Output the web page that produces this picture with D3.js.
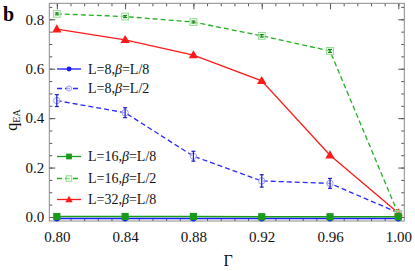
<!DOCTYPE html>
<html><head><meta charset="utf-8">
<script src="https://cdn.jsdelivr.net/npm/d3@7"></script>
<style>body{margin:0;background:#fff}svg{display:block}svg text{font-family:"Liberation Serif","DejaVu Serif",serif !important}</style>
</head><body><svg id="c" width="415" height="271"></svg>
<script>
const gammas = [0.80, 0.84, 0.88, 0.92, 0.96, 1.00];
const L8_b8  = [-0.006, -0.006, -0.006, -0.006, -0.006, -0.006];
const L8_b2  = [0.471, 0.422, 0.246, 0.146, 0.136, 0.017];
const L8_b2_err = [0.024, 0.02, 0.02, 0.025, 0.02, 0.004];
const L16_b8 = [0.002, 0.002, 0.002, 0.001, 0.001, 0.001];
const L16_b2 = [0.822, 0.811, 0.789, 0.733, 0.672, 0.012];
const L16_b2_err = [0.004, 0.004, 0.004, 0.005, 0.006, 0.003];
const L32_b8 = [0.760, 0.717, 0.655, 0.551, 0.250, 0.016];
const legendLabels = ["L=8,", "L=8,", "L=16,", "L=16,", "L=32,"];
const legendBeta = ["L/8", "L/2", "L/8", "L/2", "L/8"];
const xMajor = [0.80, 0.84, 0.88, 0.92, 0.96, 1.00];
const yMajor = [0.0, 0.2, 0.4, 0.6, 0.8];

const svg = d3.select("#c");
const L = 49.3, R = 404.3, T = 3.3, B = 221;
const x = d3.scaleLinear().domain([0.7956, 1.0035]).range([L, R]);
const y = d3.scaleLinear().domain([-0.0162, 0.8647]).range([B, T]);

const xMinor = d3.range(0.792, 1.0036, 0.008).filter(v => v >= 0.7956);
const yMinor = d3.range(0, 0.86, 0.05);

const FONT = '"Liberation Serif","DejaVu Serif",serif';
const tickCol = "#555", frameCol = "#8a8a8a";
function styleAxis(g){ g.select(".domain").remove(); g.selectAll("line").attr("stroke", tickCol); g.attr("font-family", FONT); }
function styleText(g){ g.selectAll("text").attr("font-size",15).attr("fill","#111").style("font-family",FONT); }
// bottom
svg.append("g").attr("transform",`translate(0,${B})`)
  .call(d3.axisBottom(x).tickValues(xMinor).tickSize(-3).tickFormat("")).call(styleAxis);
svg.append("g").attr("transform",`translate(0,${B})`)
  .call(d3.axisBottom(x).tickValues(xMajor).tickSize(-6).tickPadding(10).tickFormat(d3.format(".2f")))
  .call(styleAxis).call(styleText);
// top
svg.append("g").attr("transform",`translate(0,${T})`)
  .call(d3.axisTop(x).tickValues(xMinor).tickSize(-3).tickFormat("")).call(styleAxis);
svg.append("g").attr("transform",`translate(0,${T})`)
  .call(d3.axisTop(x).tickValues(xMajor).tickSize(-6).tickFormat("")).call(styleAxis);
// left
svg.append("g").attr("transform",`translate(${L},0)`)
  .call(d3.axisLeft(y).tickValues(yMinor).tickSize(-3).tickFormat("")).call(styleAxis);
svg.append("g").attr("transform",`translate(${L},0)`)
  .call(d3.axisLeft(y).tickValues(yMajor).tickSize(-6).tickPadding(5).tickFormat(d3.format(".1f")))
  .call(styleAxis).call(styleText);
// right
svg.append("g").attr("transform",`translate(${R},0)`)
  .call(d3.axisRight(y).tickValues(yMinor).tickSize(-3).tickFormat("")).call(styleAxis);
svg.append("g").attr("transform",`translate(${R},0)`)
  .call(d3.axisRight(y).tickValues(yMajor).tickSize(-6).tickFormat("")).call(styleAxis);

svg.append("rect").attr("x",L).attr("y",T).attr("width",R-L).attr("height",B-T)
  .attr("fill","none").attr("stroke",frameCol).attr("stroke-width",1);

const series = [
  {vals:L8_b8, color:"#1a1aff", dash:null, marker:"circleFilled"},
  {vals:L8_b2, color:"#2a2aff", dash:"5,3", marker:"circleOpen", err:L8_b2_err, errCol:"#1a1acc"},
  {vals:L16_b8, color:"#1a9a1a", dash:null, marker:"squareFilled"},
  {vals:L16_b2, color:"#22b022", dash:"5,3", marker:"squareOpen", err:L16_b2_err, errCol:"#118811"},
  {vals:L32_b8, color:"#ff1a1a", dash:null, marker:"triangle"}
];
const line = d3.line().x((d,i)=>x(gammas[i])).y(d=>y(d));

function drawMarker(g, type, cx, cy, color, scale){
  scale = scale||1;
  if(type==="circleFilled") g.append("circle").attr("cx",cx).attr("cy",cy).attr("r",3*scale).attr("fill",color);
  else if(type==="circleOpen") g.append("circle").attr("cx",cx).attr("cy",cy).attr("r",3.2*scale).attr("fill","#fff").attr("fill-opacity",0.6).attr("stroke","#9a9aff").attr("stroke-width",1);
  else if(type==="squareFilled") g.append("rect").attr("x",cx-3.6*scale).attr("y",cy-3.6*scale).attr("width",7.2*scale).attr("height",7.2*scale).attr("fill",color);
  else if(type==="squareOpen") g.append("rect").attr("x",cx-3.4*scale).attr("y",cy-3.4*scale).attr("width",6.8*scale).attr("height",6.8*scale).attr("fill","#fff").attr("fill-opacity",0.5).attr("stroke","#8fdc8f").attr("stroke-width",1);
  else if(type==="triangle") g.append("path").attr("d",d3.symbol(d3.symbolTriangle, 38*scale*scale)()).attr("transform",`translate(${cx},${cy+0.5})`).attr("fill",color);
}

const order = [0,1,4,3,2];
order.forEach(k=>{
  const s = series[k];
  const g = svg.append("g");
  g.append("path").datum(s.vals).attr("d",line).attr("fill","none").attr("stroke",s.color)
    .attr("stroke-width",1.3).attr("stroke-dasharray",s.dash);
  s.vals.forEach((v,i)=>{
    const cx = x(gammas[i]), cy = y(v);
    drawMarker(g, s.marker, cx, cy, s.color);
    if(s.err){
      const e = s.err[i];
      g.append("line").attr("x1",cx).attr("x2",cx).attr("y1",y(v-e)).attr("y2",y(v+e)).attr("stroke",s.errCol).attr("stroke-width",1.2);
      [v-e, v+e].forEach(ev=>g.append("line").attr("x1",cx-2).attr("x2",cx+2).attr("y1",y(ev)).attr("y2",y(ev)).attr("stroke",s.errCol).attr("stroke-width",1.2));
    }
  });
});

// legend
const legY = [69, 88.5, 156.5, 178.5, 199.5];
series.forEach((s,k)=>{
  const g = svg.append("g");
  const yy = legY[k];
  g.append("line").attr("x1",57).attr("x2",81).attr("y1",yy).attr("y2",yy).attr("stroke",s.color).attr("stroke-width",1.3).attr("stroke-dasharray",s.dash);
  drawMarker(g, s.marker, 69, yy, s.color, 0.8);
  const t = g.append("text").attr("x",88).attr("y",yy+4.5).attr("font-size",14).attr("fill","#111").style("font-family",FONT);
  t.append("tspan").text(legendLabels[k]);
  t.append("tspan").attr("font-style","italic").text("β");
  t.append("tspan").text("=" + legendBeta[k]);
});

// axis labels
const ql = svg.append("text").attr("transform","translate(17,120) rotate(-90)").attr("text-anchor","middle").attr("font-size",16).attr("fill","#111").style("font-family",FONT);
ql.append("tspan").text("q");
ql.append("tspan").attr("font-size",10).attr("dy",3).text("EA");
svg.append("text").attr("x",228).attr("y",266).attr("text-anchor","middle").attr("font-size",16).attr("fill","#111").style("font-family",FONT).text("Γ");
svg.append("text").attr("x",3).attr("y",21).attr("font-size",20).attr("font-weight","bold").attr("fill","#000").style("font-family",FONT).text("b");
</script></body></html>
